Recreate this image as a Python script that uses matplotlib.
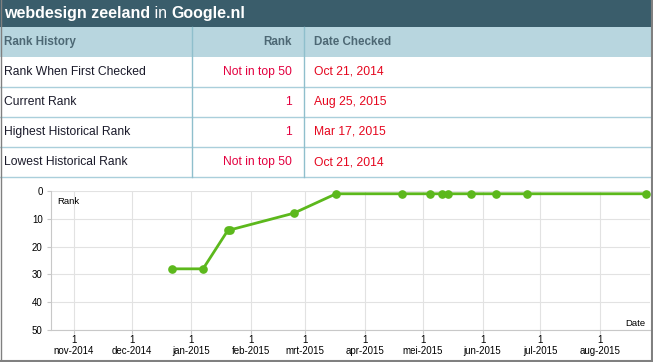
import matplotlib
matplotlib.use("Agg")
import matplotlib.pyplot as plt
import matplotlib.dates as mdates
from matplotlib.patches import Rectangle
from matplotlib.lines import Line2D
import datetime as dt

plt.rcParams['font.family'] = ['Liberation Sans', 'DejaVu Sans']

# ---------------- data ----------------
keyword = "webdesign zeeland"
engine = "Google.nl"
table_header = ["Rank History", "Rank", "Date Checked"]
row_labels = ["Rank When First Checked", "Current Rank", "Highest Historical Rank", "Lowest Historical Rank"]
row_ranks = ["Not in top 50", "1", "1", "Not in top 50"]
row_dates = ["Oct 21, 2014", "Aug 25, 2015", "Mar 17, 2015", "Oct 21, 2014"]

check_dates = ["2014-12-22", "2015-01-07", "2015-01-20", "2015-01-21", "2015-02-23",
               "2015-03-17", "2015-04-20", "2015-05-05", "2015-05-11", "2015-05-14",
               "2015-05-26", "2015-06-08", "2015-06-24", "2015-08-25"]
ranks = [28, 28, 14, 14, 8, 1, 1, 1, 1, 1, 1, 1, 1, 1]

month_starts = ["2014-11-01", "2014-12-01", "2015-01-01", "2015-02-01", "2015-03-01",
                "2015-04-01", "2015-05-01", "2015-06-01", "2015-07-01", "2015-08-01"]
month_labels = ["nov-2014", "dec-2014", "jan-2015", "feb-2015", "mrt-2015",
                "apr-2015", "mei-2015", "jun-2015", "jul-2015", "aug-2015"]
y_ticks = [0, 10, 20, 30, 40, 50]

# ---------------- figure ----------------
W, H = 653, 362
fig = plt.figure(figsize=(W / 100, H / 100), dpi=100)
fig.patch.set_facecolor("white")

def fx(x):
    return x / W

def fy(y):
    return 1 - y / H

def rect(x0, y0, x1, y1, color):
    fig.patches.append(Rectangle((fx(x0), fy(y1)), fx(x1) - fx(x0), fy(y0) - fy(y1),
                                 transform=fig.transFigure, facecolor=color,
                                 edgecolor="none", zorder=0))

def line(x0, y0, x1, y1, color, lw=1.0):
    fig.lines.append(Line2D([fx(x0), fx(x1)], [fy(y0), fy(y1)], transform=fig.transFigure,
                            color=color, lw=lw, zorder=1))

# title bar
rect(0, 0, W, 27, "#3a5d6b")
renderer = fig.canvas.get_renderer()
xpos = 4
for txt, wt in [(keyword, "bold"), (" in ", "normal"), (engine, "bold")]:
    t = fig.text(fx(xpos), fy(13.5), txt, color="white", fontsize=11.5, fontweight=wt,
                 ha="left", va="center")
    bb = t.get_window_extent(renderer=renderer)
    xpos += bb.width

# table header row
rect(0, 27, W, 57, "#b8d6df")
hdr_col = "#4d6874"
fig.text(fx(4), fy(42), table_header[0], color=hdr_col, fontsize=8.4, fontweight="bold",
         ha="left", va="center")
fig.text(fx(292), fy(42), table_header[1], color=hdr_col, fontsize=8.4, fontweight="bold",
         ha="right", va="center")
fig.text(fx(314), fy(42), table_header[2], color=hdr_col, fontsize=8.4, fontweight="bold",
         ha="left", va="center")

# table rows
row_h = 30
for i, (lab, rk, dtxt) in enumerate(zip(row_labels, row_ranks, row_dates)):
    yc = 57 + row_h * i + row_h / 2
    fig.text(fx(4), fy(yc), lab, color="#1a1a2a", fontsize=8.7, ha="left", va="center")
    fig.text(fx(292), fy(yc), rk, color="#e3003f", fontsize=8.7, ha="right", va="center")
    fig.text(fx(314), fy(yc), dtxt, color="#e5061e", fontsize=8.7, ha="left", va="center")
    line(0, 57 + row_h * (i + 1), W, 57 + row_h * (i + 1), "#aacfdb", 1.0)

# column separators
line(192.5, 27, 192.5, 177, "#8fbfcc", 1.0)
line(303.5, 27, 303.5, 177, "#8fbfcc", 1.0)

# outer border
line(0.5, 0, 0.5, H, "#808080", 1.0)
line(W - 1.5, 0, W - 1.5, H, "#808080", 1.5)
line(0, H - 1.5, W, H - 1.5, "#808080", 1.5)

# ---------------- chart ----------------
ax_l, ax_r, ax_t, ax_b = 51, 650, 191, 330
ax = fig.add_axes([fx(ax_l), fy(ax_b), fx(ax_r) - fx(ax_l), fy(ax_t) - fy(ax_b)])
ax.set_facecolor("none")

d = [dt.datetime.strptime(s, "%Y-%m-%d") for s in check_dates]
ms = [dt.datetime.strptime(s, "%Y-%m-%d") for s in month_starts]

ax.plot(d, ranks, color="#5cb81c", lw=2.0, marker="o", markersize=5.2,
        markerfacecolor="#5cb81c", markeredgecolor="#5cb81c", zorder=3, clip_on=False)

xmin = mdates.date2num(dt.datetime(2014, 11, 1)) - 11.9
xmax = mdates.date2num(dt.datetime(2014, 11, 1)) + 298.9
ax.set_xlim(xmin, xmax)
ax.set_ylim(50, 0)

ax.set_xticks(mdates.date2num(ms))
ax.set_xticklabels(["1\n" + m for m in month_labels], fontsize=7, linespacing=1.2)
ax.set_yticks(y_ticks)
ax.set_yticklabels([str(v) for v in y_ticks], fontsize=7)

ax.grid(True, color="#e2e2e2", lw=0.8)
ax.set_axisbelow(True)
for s in ["top", "right"]:
    ax.spines[s].set_visible(False)
for s in ["left", "bottom"]:
    ax.spines[s].set_color("#c8c8c8")
    ax.spines[s].set_linewidth(0.8)
ax.tick_params(axis="x", length=3, color="#c8c8c8", pad=0.5, labelcolor="black")
ax.tick_params(axis="y", length=3, color="#c8c8c8", pad=3, labelcolor="black")

fig.text(fx(57), fy(201), "Rank", fontsize=6.8, color="black", ha="left", va="center")
fig.text(fx(645), fy(324), "Date", fontsize=6.8, color="black", ha="right", va="center")

fig.savefig("out.png", dpi=100, facecolor="white")
